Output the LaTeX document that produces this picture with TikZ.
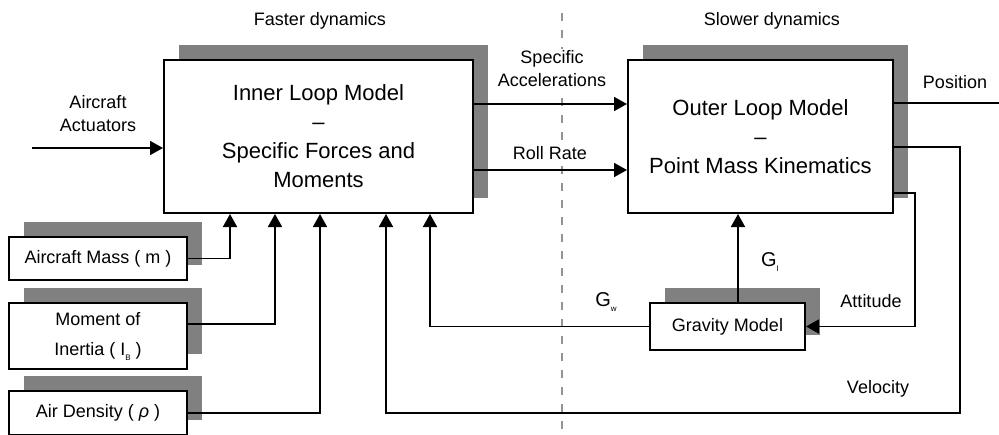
\documentclass[tikz,border=0pt]{standalone}
\usepackage{fontspec}
\setmainfont{Liberation Sans}
\usetikzlibrary{arrows.meta,shadows}

\tikzstyle{blk}=[draw, line width=2pt, fill=white, inner sep=0pt,
  drop shadow={shadow xshift=15pt, shadow yshift=15pt, fill=gray, opacity=1}]
\tikzstyle{arr}=[line width=1.8pt, -{Triangle[length=13pt,width=14pt]}]
\tikzstyle{lbl}=[font=\fontsize{18}{23}\selectfont, align=center]
\tikzstyle{big}=[font=\fontsize{22}{29}\selectfont, align=center]
\newcommand{\lowidx}[1]{\raisebox{-5pt}{\fontsize{8}{8}\selectfont #1}}

\begin{document}
\begin{tikzpicture}[x=1pt,y=-1pt]
\useasboundingbox (0,0) rectangle (999,434);
\draw[gray!85, line width=2pt, dash pattern=on 8pt off 9pt] (562,13) -- (562,434);
%
\draw (318.5,136.5) node[blk, big, minimum width=309pt, minimum height=153pt](inner)
  {Inner Loop Model\\–\\Specific Forces and\\Moments};
\draw (760.5,136.5) node[blk, big, minimum width=265pt, minimum height=153pt](outer)
  {Outer Loop Model\\–\\Point Mass Kinematics};
\draw (727.5,326.5) node[blk, lbl, minimum width=155pt, minimum height=47pt](grav){Gravity Model};
%
\draw (98,258.5) node[blk, lbl, minimum width=178pt, minimum height=43pt](mass){Aircraft Mass ( m )};
\draw (98,336) node[blk, lbl, minimum width=178pt, minimum height=66pt](inertia)
  {Moment of\\[7pt]Inertia ( I\lowidx{B} )};
\draw (98,413) node[blk, lbl, minimum width=178pt, minimum height=44pt](air){Air Density ( \textit{ρ} )};
%
\draw (320,21) node[lbl](fast){Faster dynamics};
\draw (772,21) node[lbl](slow){Slower dynamics};
\draw (98,113.5) node[lbl](actl){Aircraft\\Actuators};
\draw (552,69) node[lbl, fill=white, inner sep=2pt](accl){Specific\\Accelerations};
\draw (550,153) node[lbl, fill=white, inner sep=2pt](rolll){Roll Rate};
\draw (955,82) node[lbl](posl){Position};
\draw (871,301) node[lbl](attl){Attitude};
\draw (878,389) node[lbl](vell){Velocity};
\draw (770,262) node[lbl, font=\fontsize{20}{24}\selectfont](gil){G\lowidx{I}};
\draw (606,302) node[lbl, font=\fontsize{20}{24}\selectfont](gwl){G\lowidx{w}};
%
\coordinate (act) at (32,148);
\coordinate (posend) at (999,103);
\coordinate (velc) at (960,413);
\coordinate (attc) at (915,326.5);
\draw[arr] (act) -- (act -| inner.west);
\draw[arr] ([yshift=32.5pt]inner.east) -- ([yshift=32.5pt]outer.west);
\draw[arr] ([yshift=-33.5pt]inner.east) -- ([yshift=-33.5pt]outer.west);
\draw[line width=1.8pt] ([yshift=33.5pt]outer.east) -- (posend);
%
\draw[arr] (mass.east) -| ([xshift=-88.5pt]inner.south);
\draw[arr] ([yshift=12pt]inertia.east) -| ([xshift=-43.5pt]inner.south);
\draw[arr] (air.east) -| ([xshift=1.5pt]inner.south);
\draw[arr] ([yshift=-10.5pt]outer.east) -| (velc) -| ([xshift=67.5pt]inner.south);
\draw[arr] (grav.west) -| ([xshift=111.5pt]inner.south);
\draw[arr] ([xshift=10.5pt]grav.north) -- ([xshift=-22.5pt]outer.south);
\draw[arr] ([yshift=-56.5pt]outer.east) -| (attc) -- (grav.east);
\end{tikzpicture}
\end{document}
